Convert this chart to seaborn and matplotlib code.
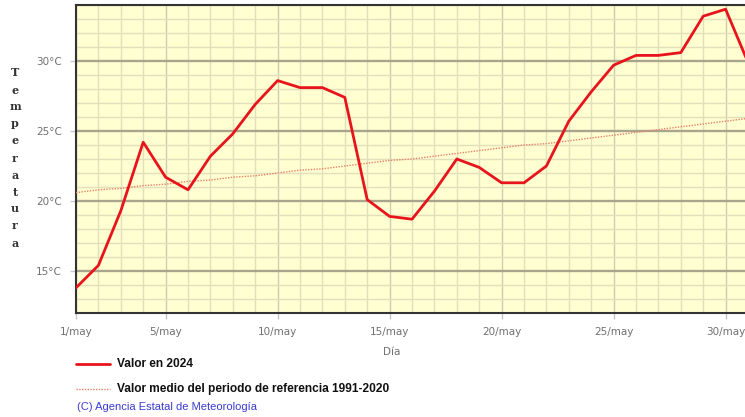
import matplotlib
matplotlib.use("Agg")
import matplotlib.pyplot as plt
import seaborn as sns
import pandas as pd
import numpy as np
from matplotlib.lines import Line2D

days = list(range(1, 32))
valor_2024 = [13.8, 15.4, 19.3, 24.2, 21.7, 20.8, 23.2, 24.8, 26.9, 28.6,
              28.1, 28.1, 27.4, 20.1, 18.9, 18.7, 20.7, 23.0, 22.4, 21.3,
              21.3, 22.5, 25.7, 27.8, 29.7, 30.4, 30.4, 30.6, 33.2, 33.7, 29.9]
valor_medio = [20.6, 20.8, 20.9, 21.1, 21.2, 21.4, 21.5, 21.7, 21.8, 22.0,
               22.2, 22.3, 22.5, 22.7, 22.9, 23.0, 23.2, 23.4, 23.6, 23.8,
               24.0, 24.1, 24.3, 24.5, 24.7, 24.9, 25.1, 25.3, 25.5, 25.7, 25.9]
xtick_days = [1, 5, 10, 15, 20, 25, 30]
xtick_labels = ["1/may", "5/may", "10/may", "15/may", "20/may", "25/may", "30/may"]
ytick_vals = [15, 20, 25, 30]
ytick_labels = ["15°C", "20°C", "25°C", "30°C"]

df = pd.DataFrame({"dia": days, "v2024": valor_2024, "medio": valor_medio})

sns.set_theme(style="white")
plt.rcParams["font.family"] = ["DejaVu Sans"]

W, H = 745, 417
fig = plt.figure(figsize=(W / 100, H / 100), dpi=100)
fig.patch.set_facecolor("white")
# plot area: x 76 -> 748 px, y 5 -> 313 px
ax = fig.add_axes([76 / W, 1 - 313 / H, 672 / W, 308 / H])
ax.set_facecolor("#ffffd2")

ax.set_xlim(1, 31)
ax.set_ylim(12, 34)

# grid
for d in days:
    col = "#cfcdb0" if d in xtick_days else "#e2dfbb"
    ax.axvline(d, color=col, lw=1.0, zorder=1)
for t in range(12, 35):
    if t % 5 == 0:
        ax.axhline(t, color="#a9a58c", lw=1.7, zorder=1.2)
    else:
        ax.axhline(t, color="#e2dfbb", lw=1.0, zorder=1)

sns.lineplot(data=df, x="dia", y="medio", ax=ax, color="#e8806a", lw=1.0,
             linestyle=(0, (1, 1)), zorder=3)
sns.lineplot(data=df, x="dia", y="v2024", ax=ax, color="#e8141c", lw=2.0, zorder=4)

ax.set_xticks(xtick_days)
ax.set_xticklabels(xtick_labels)
ax.set_yticks(ytick_vals)
ax.set_yticklabels(ytick_labels)
ax.tick_params(axis="both", colors="#c8c8c8", labelcolor="#707070", labelsize=7.5,
               length=4, width=1, direction="out", pad=6, left=True, bottom=True)
ax.set_xlabel("")
ax.set_ylabel("")

for s in ["left", "bottom", "top"]:
    ax.spines[s].set_color("#333333")
    ax.spines[s].set_linewidth(1.5)
ax.spines["right"].set_visible(False)

# xlabel
fig.text(392 / W, 1 - 352 / H, "Día", ha="center", va="center", fontsize=7.5, color="#707070")

# stacked y label
word = "Temperatura"
for i, ch in enumerate(word):
    y = 73 + i * 17
    fig.text(15 / W, 1 - y / H, ch, ha="center", va="center", fontsize=8,
             fontweight="bold", color="#333333", family="DejaVu Serif")

# legend
fig.add_artist(Line2D([76 / W, 110 / W], [1 - 364 / H, 1 - 364 / H], color="#e8141c", lw=2.0))
fig.text(117 / W, 1 - 364 / H, "Valor en 2024", ha="left", va="center", fontsize=8.6,
         fontweight="bold", color="#111111", family="Liberation Sans")
fig.add_artist(Line2D([76 / W, 110 / W], [1 - 389 / H, 1 - 389 / H], color="#e8806a", lw=1.0,
                      linestyle=(0, (1, 1))))
fig.text(117 / W, 1 - 389 / H, "Valor medio del periodo de referencia 1991-2020", ha="left",
         va="center", fontsize=8.6, fontweight="bold", color="#111111", family="Liberation Sans")
fig.text(77 / W, 1 - 407 / H, "(C) Agencia Estatal de Meteorología", ha="left", va="center",
         fontsize=8.0, color="#3a3ad0", family="Liberation Sans")

fig.savefig("out.png", dpi=100)
